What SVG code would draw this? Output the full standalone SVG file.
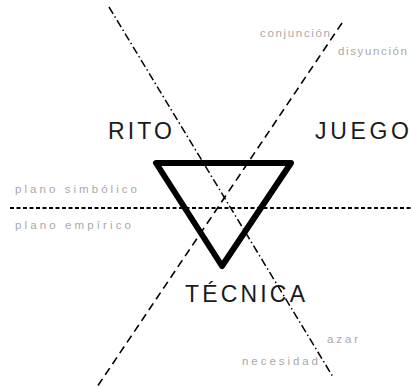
<svg xmlns="http://www.w3.org/2000/svg" width="411" height="387" viewBox="0 0 411 387">
<style>
.big{font-family:"Liberation Sans",Arial,sans-serif;font-size:23px;fill:#1a1a1a}
.small{font-family:"Liberation Sans",Arial,sans-serif;font-size:11.5px;fill:#a8a8a8}
.dashdot{stroke:#000;stroke-width:1.5;fill:none;stroke-dasharray:8 3 1.5 3}
.dashed{stroke:#000;stroke-width:1.6;fill:none;stroke-dasharray:8 5}
.dotted{stroke:#000;stroke-width:2;fill:none;stroke-dasharray:4 2.5}
</style>
<rect width="411" height="387" fill="#fff"/>
<g id="connectors">
<line class="dotted" x1="10" y1="208" x2="411" y2="208"/>
<line class="dashdot" x1="109" y1="7" x2="333" y2="377"/>
<line class="dashed" x1="342" y1="23" x2="97" y2="387"/>
</g>
<g id="triangle">
<polygon points="156,163 291,163 222,266" fill="none" stroke="#000" stroke-width="6" stroke-linejoin="round"/>
</g>
<g id="rito"><text class="big" x="108" y="139" textLength="64" lengthAdjust="spacing">RITO</text></g>
<g id="juego"><text class="big" x="315" y="139" textLength="94" lengthAdjust="spacing">JUEGO</text></g>
<g id="tecnica"><text class="big" x="185" y="302" textLength="120" lengthAdjust="spacing">TÉCNICA</text></g>
<g id="conjuncion"><text class="small" x="260" y="37" textLength="70" lengthAdjust="spacing">conjunción</text></g>
<g id="disyuncion"><text class="small" x="338" y="55" textLength="69" lengthAdjust="spacing">disyunción</text></g>
<g id="plano-simbolico"><text class="small" x="15" y="193" textLength="122" lengthAdjust="spacing">plano simbólico</text></g>
<g id="plano-empirico"><text class="small" x="15" y="229" textLength="116" lengthAdjust="spacing">plano empírico</text></g>
<g id="azar"><text class="small" x="327" y="343" textLength="31" lengthAdjust="spacing">azar</text></g>
<g id="necesidad"><text class="small" x="242" y="365" textLength="76" lengthAdjust="spacing">necesidad</text></g>
</svg>
